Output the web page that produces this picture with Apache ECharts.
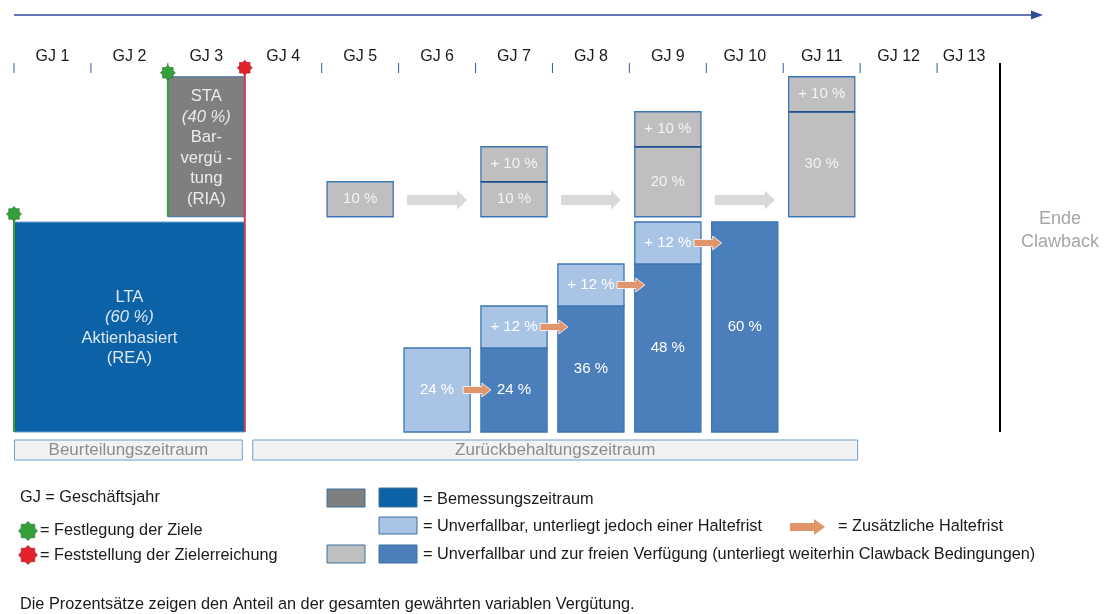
<!DOCTYPE html>
<html><head><meta charset="utf-8">
<script src="https://cdn.jsdelivr.net/npm/echarts@6/dist/echarts.min.js"></script>
<style>html,body{margin:0;padding:0;background:#fff}#c{width:1104px;height:614px}</style>
</head><body><div id="c"></div>
<script>
// ---------------- DATA ----------------
const years = ['GJ 1','GJ 2','GJ 3','GJ 4','GJ 5','GJ 6','GJ 7','GJ 8','GJ 9','GJ 10','GJ 11','GJ 12','GJ 13'];
// performance periods [first GJ, last GJ] and share of total variable remuneration (%)
const ltaPeriod = [1, 3];
const ltaShare = 60;
const staPeriod = [3, 3];
const staShare = 40;
// per fiscal year (index 0 = GJ 1), in % of total variable remuneration
const sharesHeld = [null,null,null,null,null,24,12,12,12,null,null,null,null]; // unverfallbar, Haltefrist
const sharesFree = [null,null,null,null,null,null,24,36,48,60,null,null,null]; // frei verfügbar (Aktien)
const cashFree   = [null,null,null,null,10,null,10,null,20,null,30,null,null];  // frei verfügbar (bar)
const cashAdded  = [null,null,null,null,null,null,10,null,10,null,10,null,null]; // neu hinzukommend (bar)
const periods = [['Beurteilungszeitraum', 1, 3], ['Zurückbehaltungszeitraum', 4, 11]];

// ---------------- STYLE / LAYOUT ----------------
const FONT = '"Liberation Sans", Arial, sans-serif';
const LFS = 16.3;         // legend font size
const GRAY_BASE = 61.5;   // baseline of the cash boxes (y units)
const BOX_W = 0.86;       // box width in fiscal years
const C = {
  ltaBlue: '#0b62a6', staGray: '#7f7f7f', midBlue: '#4b7fbc', lightBlue: '#a9c4e4',
  lightGray: '#bfbfbf', border: '#3a76b4', split: '#23508c', orange: '#e0956b',
  arrowGray: '#d9d9d9', green: '#35a03a', greenDark: '#1f6d27', red: '#e3222b', redLine: '#c0415a'
};

function starPts(cx, cy, ro, ri, n) {
  const p = [];
  for (let k = 0; k < 2 * n; k++) {
    const r = k % 2 ? ri : ro;
    const a = -Math.PI / 2 + k * Math.PI / n;
    p.push([cx + r * Math.cos(a), cy + r * Math.sin(a)]);
  }
  return p;
}

// ---- build box list ----
const boxes = [];
years.forEach((y, i) => {
  const f = sharesFree[i] || 0, h = sharesHeld[i];
  if (sharesFree[i] != null) boxes.push({x: i, y0: 0, y1: f, fill: C.midBlue, text: f + ' %', tc: '#ffffff'});
  if (h != null) boxes.push({x: i, y0: f, y1: f + h, fill: C.lightBlue, text: (f ? '+ ' : '') + h + ' %', tc: '#ffffff'});
  const cf = cashFree[i], ca = cashAdded[i];
  if (cf != null) boxes.push({x: i, y0: GRAY_BASE, y1: GRAY_BASE + cf, fill: C.lightGray, text: cf + ' %', tc: '#f4f4f4'});
  if (ca != null) boxes.push({x: i, y0: GRAY_BASE + (cf || 0), y1: GRAY_BASE + (cf || 0) + ca, fill: C.lightGray, text: '+ ' + ca + ' %', tc: '#f4f4f4', split: true});
});

// ---- hold arrows (orange): from held box of year i to year i+1 ----
const holdArrows = [];
sharesHeld.forEach((h, i) => { if (h != null) holdArrows.push([i, (sharesFree[i] || 0) + h / 2]); });
// ---- cash arrows (gray): between consecutive cash boxes ----
const cashYears = cashFree.map((v, i) => v != null ? i : -1).filter(i => i >= 0);
const cashArrows = [];
for (let k = 1; k < cashYears.length; k++) cashArrows.push([(cashYears[k - 1] + cashYears[k]) / 2]);

// ---- plan blocks ----
const plans = [
  {x0: ltaPeriod[0] - 1, x1: ltaPeriod[1], y0: 0, y1: ltaShare, fill: C.ltaBlue, stroke: '#6fa6d6',
   text: '{b|LTA}\n{i|(' + ltaShare + ' %)}\n{b|Aktienbasiert}\n{b|(REA)}', tc: '#dde7f3'},
  {x0: staPeriod[0] - 1, x1: staPeriod[1], y0: GRAY_BASE, y1: GRAY_BASE + staShare, fill: C.staGray, stroke: '#41719c',
   text: '{b|STA}\n{i|(' + staShare + ' %)}\n{b|Bar-}\n{b|vergü -}\n{b|tung}\n{b|(RIA)}', tc: '#ececec'}
];
// markers: goal setting at start of each plan, assessment at end
const markers = [
  {x: plans[0].x0, from: plans[0].y0, to: plans[0].y1, off: 8, fill: C.green, stroke: C.greenDark, line: C.green},
  {x: plans[1].x0, from: plans[1].y0, to: plans[1].y1, off: 4, fill: C.green, stroke: C.greenDark, line: C.green},
  {x: plans[0].x1, from: plans[0].y0, to: plans[1].y1, off: 9, fill: C.red, stroke: '#a01218', line: C.redLine}
];

const chart = echarts.init(document.getElementById('c'), null, {renderer: 'canvas'});

const lastYear = years[years.length - 1];
const option = {
  animation: false,
  backgroundColor: '#ffffff',
  grid: {left: 14, top: 72, width: 1000, height: 360},
  xAxis: [
    {type: 'value', min: 0, max: 13, show: false, position: 'bottom'},
    {type: 'category', data: years, position: 'top', boundaryGap: true,
     axisLine: {show: false}, splitLine: {show: false}, axisTick: {show: false},
     axisLabel: {interval: 0, hideOverlap: false, fontSize: 16, color: '#1a1a1a', fontFamily: FONT, margin: 7,
       formatter: v => v === lastYear ? '{s|' + v + '}' : v,
       rich: {s: {fontSize: 16, color: '#1a1a1a', fontFamily: FONT, padding: [0, 23, 0, 0]}}}}
  ],
  yAxis: {type: 'value', min: 0, max: 360 / 3.5, show: false},
  series: [
    { // year boundary ticks
      type: 'custom', clip: false, z: 1, xAxisIndex: 0,
      data: years.map((y, i) => [i]),
      renderItem: (params, api) => {
        const p = api.coord([api.value(0), 360 / 3.5]);
        return {type: 'line', shape: {x1: p[0], y1: p[1] - 9, x2: p[0], y2: p[1] + 1}, style: {stroke: '#3b5ba5', lineWidth: 1}};
      }
    },
    { // plan blocks LTA / STA
      type: 'custom', clip: false, z: 2, xAxisIndex: 0,
      data: plans.map((p, k) => [p.x0, p.y0, k]),
      renderItem: (params, api) => {
        const p = plans[params.dataIndex];
        const a = api.coord([p.x0, p.y1]), b = api.coord([p.x1, p.y0]);
        return {type: 'group', children: [
          {type: 'rect', shape: {x: a[0], y: a[1], width: b[0] - a[0], height: b[1] - a[1]},
           style: {fill: p.fill, stroke: p.stroke, lineWidth: 1}},
          {type: 'text', x: (a[0] + b[0]) / 2, y: (a[1] + b[1]) / 2 + 1,
           style: {text: p.text, align: 'center', verticalAlign: 'middle',
             rich: {b: {fontSize: 16.6, fontFamily: FONT, fill: p.tc, lineHeight: 20.5, align: 'center'},
                    i: {fontSize: 16.6, fontFamily: FONT, fill: p.tc, fontStyle: 'italic', lineHeight: 20.5, align: 'center'}}}}
        ]};
      }
    },
    { // annual boxes
      type: 'custom', clip: false, z: 3, xAxisIndex: 0,
      data: boxes.map((b, k) => [b.x, b.y0, k]),
      renderItem: (params, api) => {
        const b = boxes[params.dataIndex];
        const a = api.coord([b.x + 0.5 - BOX_W / 2, b.y1]), c = api.coord([b.x + 0.5 + BOX_W / 2, b.y0]);
        const ch = [
          {type: 'rect', shape: {x: a[0], y: a[1], width: c[0] - a[0], height: c[1] - a[1]},
           style: {fill: b.fill, stroke: C.border, lineWidth: 1.3}},
          {type: 'text', x: (a[0] + c[0]) / 2, y: (a[1] + c[1]) / 2,
           style: {text: b.text, fill: b.tc, fontSize: 15, fontFamily: FONT, align: 'center', verticalAlign: 'middle'}}
        ];
        if (b.split) ch.push({type: 'line', shape: {x1: a[0], y1: c[1], x2: c[0], y2: c[1]}, style: {stroke: C.split, lineWidth: 1.3}});
        return {type: 'group', children: ch};
      }
    },
    { // gray arrows between cash boxes
      type: 'custom', clip: false, z: 2, xAxisIndex: 0,
      data: cashArrows,
      renderItem: (params, api) => {
        const c = api.coord([api.value(0) + 0.5, GRAY_BASE + 4.8]);
        const x0 = c[0] - 30, x1 = c[0] + 30, hl = 10, y = c[1];
        return {type: 'polygon', shape: {points: [[x0, y - 5], [x1 - hl, y - 5], [x1 - hl, y - 9.5], [x1, y], [x1 - hl, y + 9.5], [x1 - hl, y + 5], [x0, y + 5]]},
          style: {fill: C.arrowGray}};
      }
    },
    { // orange hold arrows
      type: 'custom', clip: false, z: 5, xAxisIndex: 0,
      data: holdArrows,
      renderItem: (params, api) => {
        const i = api.value(0);
        const s = api.coord([i + 0.5 + BOX_W / 2, api.value(1)]);
        const e = api.coord([i + 1.5 - BOX_W / 2, api.value(1)]);
        const x0 = s[0] - 7, x1 = e[0] + 10, y = s[1], hl = 9;
        return {type: 'polygon', shape: {points: [[x0, y - 3.5], [x1 - hl, y - 3.5], [x1 - hl, y - 7], [x1, y], [x1 - hl, y + 7], [x1 - hl, y + 3.5], [x0, y + 3.5]]},
          style: {fill: C.orange, stroke: '#ffffff', lineWidth: 0.8}};
      }
    },
    { // markers: lines + stars
      type: 'custom', clip: false, z: 6, xAxisIndex: 0,
      data: markers.map((m, k) => [m.x, m.to, k]),
      renderItem: (params, api) => {
        const m = markers[params.dataIndex];
        const b = api.coord([m.x, m.from]), t = api.coord([m.x, m.to]);
        const sy = t[1] - m.off;
        return {type: 'group', children: [
          {type: 'line', shape: {x1: b[0], y1: b[1], x2: t[0], y2: sy}, style: {stroke: m.line, lineWidth: 2}},
          {type: 'polygon', shape: {points: starPts(t[0], sy, 7.5, 5.6, 8)}, style: {fill: m.fill, stroke: m.stroke, lineWidth: 0.6}}
        ]};
      }
    },
    { // period bands
      type: 'custom', clip: false, z: 2, xAxisIndex: 0,
      data: periods.map((p, k) => [p[1] - 1, 0, k]),
      renderItem: (params, api) => {
        const p = periods[params.dataIndex];
        const a = api.coord([p[1] - 1, 0]), c = api.coord([p[2], 0]);
        const x0 = a[0] + (params.dataIndex ? 8 : 0.5), x1 = c[0] - 2.5;
        const y0 = a[1] + 8, h = 20;
        return {type: 'group', children: [
          {type: 'rect', shape: {x: x0, y: y0, width: x1 - x0, height: h}, style: {fill: '#f2f2f2', stroke: '#6d9fcc', lineWidth: 1}},
          {type: 'text', x: (x0 + x1) / 2, y: y0 + h / 2 + 0.5,
           style: {text: p[0], fill: '#8c8c8c', fontSize: 17, fontFamily: FONT, align: 'center', verticalAlign: 'middle'}}
        ]};
      }
    }
  ],
  graphic: [
    // time arrow
    {type: 'line', shape: {x1: 14, y1: 15, x2: 1034, y2: 15}, style: {stroke: '#2f4d9a', lineWidth: 1.5}, z: 10},
    {type: 'polygon', shape: {points: [[1031, 10.5], [1043, 15], [1031, 19.5]]}, style: {fill: '#2f4d9a'}, z: 10},
    // clawback end
    {type: 'line', shape: {x1: 1000, y1: 63, x2: 1000, y2: 432}, style: {stroke: '#000000', lineWidth: 2}, z: 10},
    {type: 'text', x: 1060, y: 231, style: {text: 'Ende\nClawback', fill: '#a6a6a6', fontSize: 18, fontFamily: FONT, align: 'center', verticalAlign: 'middle', lineHeight: 23}, z: 10},
    // legend left
    {type: 'text', x: 20, y: 498, style: {text: 'GJ = Geschäftsjahr', fill: '#1a1a1a', fontSize: LFS, fontFamily: FONT, verticalAlign: 'middle'}, z: 10},
    {type: 'polygon', shape: {points: starPts(28, 531, 9.5, 7.4, 8)}, style: {fill: C.green, stroke: C.greenDark, lineWidth: 0.6}, z: 10},
    {type: 'text', x: 40, y: 531, style: {text: '= Festlegung der Ziele', fill: '#1a1a1a', fontSize: LFS, fontFamily: FONT, verticalAlign: 'middle'}, z: 10},
    {type: 'polygon', shape: {points: starPts(28, 555, 9.5, 7.4, 8)}, style: {fill: C.red, stroke: '#a01218', lineWidth: 0.6}, z: 10},
    {type: 'text', x: 40, y: 556, style: {text: '= Feststellung der Zielerreichung', fill: '#1a1a1a', fontSize: LFS, fontFamily: FONT, verticalAlign: 'middle'}, z: 10},
    // legend boxes
    {type: 'rect', shape: {x: 327, y: 489, width: 38, height: 18}, style: {fill: C.staGray, stroke: '#41719c', lineWidth: 1}, z: 10},
    {type: 'rect', shape: {x: 379, y: 488, width: 38, height: 19}, style: {fill: C.ltaBlue, stroke: '#41719c', lineWidth: 1}, z: 10},
    {type: 'text', x: 423, y: 500, style: {text: '= Bemessungszeitraum', fill: '#1a1a1a', fontSize: LFS, fontFamily: FONT, verticalAlign: 'middle'}, z: 10},
    {type: 'rect', shape: {x: 379, y: 517, width: 38, height: 17}, style: {fill: C.lightBlue, stroke: '#41719c', lineWidth: 1}, z: 10},
    {type: 'text', x: 423, y: 527, style: {text: '= Unverfallbar, unterliegt jedoch einer Haltefrist', fill: '#1a1a1a', fontSize: LFS, fontFamily: FONT, verticalAlign: 'middle'}, z: 10},
    {type: 'polygon', shape: {points: [[790, 523], [814, 523], [814, 519], [825, 527], [814, 535], [814, 531], [790, 531]]}, style: {fill: C.orange}, z: 10},
    {type: 'text', x: 838, y: 527, style: {text: '= Zusätzliche Haltefrist', fill: '#1a1a1a', fontSize: LFS, fontFamily: FONT, verticalAlign: 'middle'}, z: 10},
    {type: 'rect', shape: {x: 327, y: 545, width: 38, height: 18}, style: {fill: C.lightGray, stroke: '#41719c', lineWidth: 1}, z: 10},
    {type: 'rect', shape: {x: 379, y: 545, width: 38, height: 18}, style: {fill: C.midBlue, stroke: '#41719c', lineWidth: 1}, z: 10},
    {type: 'text', x: 423, y: 555, style: {text: '= Unverfallbar und zur freien Verfügung (unterliegt weiterhin Clawback Bedingungen)', fill: '#1a1a1a', fontSize: LFS, fontFamily: FONT, verticalAlign: 'middle'}, z: 10},
    // footnote
    {type: 'text', x: 20, y: 605, style: {text: 'Die Prozentsätze zeigen den Anteil an der gesamten gewährten variablen Vergütung.', fill: '#1a1a1a', fontSize: LFS, fontFamily: FONT, verticalAlign: 'middle'}, z: 10}
  ]
};
chart.setOption(option);
</script>
</body></html>
